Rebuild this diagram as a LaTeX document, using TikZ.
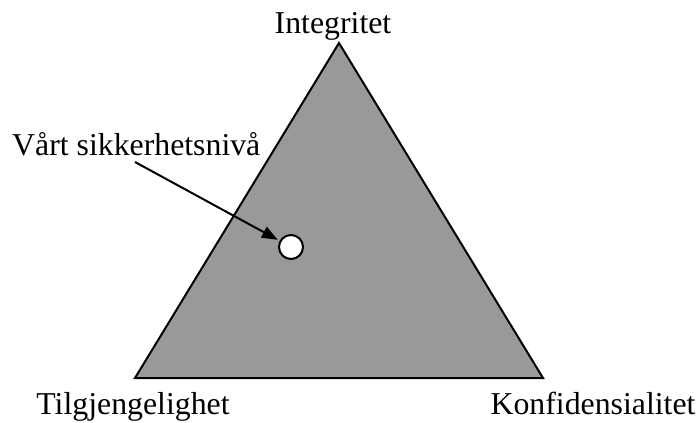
\documentclass[tikz,border=0pt]{standalone}
\usepackage{fontspec}
\setmainfont{Liberation Serif}
\usetikzlibrary{arrows.meta}
\begin{document}
\begin{tikzpicture}[x=1pt,y=-1pt,
  lbl/.style={inner sep=0pt,font=\fontsize{31.8}{38}\selectfont},
  dot/.style={circle,draw=black,line width=2pt,fill=white,minimum size=24pt,inner sep=0pt},
  pointer/.style={draw=black,line width=2pt,-{Triangle[length=16pt,width=12pt]}}]
\useasboundingbox (0,0) rectangle (699,423);
\coordinate (top) at (339,43);
\coordinate (bl) at (135,378);
\coordinate (br) at (543,378);
\fill[fill={rgb,255:red,153;green,153;blue,153}] (top) -- (bl) -- (br) -- cycle;
\draw[line width=2pt,line join=miter] (top) -- (bl) -- (br) -- cycle;
\node[dot] (lvl) at (291,247) {};
\node[lbl,anchor=base] (i) at (333,33) {Integritet};
\node[lbl,anchor=base west] (v) at (12,155) {Vårt sikkerhetsnivå};
\node[lbl,anchor=base] (t) at (133,414) {Tilgjengelighet};
\node[lbl,anchor=base] (k) at (593,414) {Konfidensialitet};
\coordinate (s) at (135,162);
\draw[pointer,shorten >=2pt] (s) -- (lvl);
\end{tikzpicture}
\end{document}
